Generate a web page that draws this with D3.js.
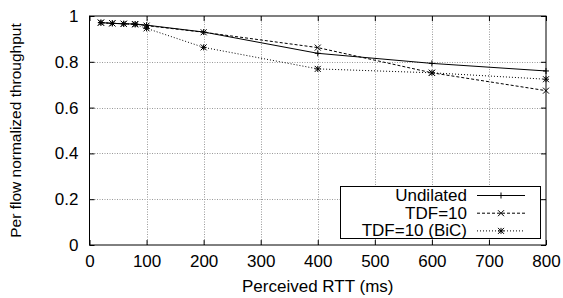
<!DOCTYPE html>
<html>
<head>
<meta charset="utf-8">
<script src="https://cdn.jsdelivr.net/npm/d3@7"></script>
<style>
  body { margin: 0; background: #fff; }
  text { font-family: "Liberation Sans", Arial, sans-serif; }
</style>
</head>
<body>
<div id="chart"></div>
<script>
// RTT values (ms) and normalized throughput per series
const rtt = [20, 40, 60, 80, 100, 200, 400, 600, 800];
const undilated = [0.971, 0.968, 0.966, 0.965, 0.96, 0.93, 0.837, 0.793, 0.76];
const tdf10 = [0.971, 0.968, 0.966, 0.965, 0.958, 0.929, 0.862, 0.752, 0.674];
const tdf10bic = [0.971, 0.968, 0.966, 0.963, 0.946, 0.863, 0.769, 0.752, 0.724];
const seriesNames = ["Undilated", "TDF=10", "TDF=10 (BiC)"];
const xTicks = [0, 100, 200, 300, 400, 500, 600, 700, 800];
const yTicks = [0, 0.2, 0.4, 0.6, 0.8, 1];

const width = 563, height = 298,
      margin = {top: 16, right: 17, bottom: 53, left: 89.5};
const fs = 17;

const svg = d3.select("#chart").append("svg")
    .attr("width", width).attr("height", height);

const x = d3.scaleLinear().domain([0, 800]).range([margin.left, width - margin.right]);
const y = d3.scaleLinear().domain([0, 1]).range([height - margin.bottom, margin.top]);

// grid
const grid = svg.append("g").attr("stroke", "#999").attr("stroke-width", 1)
    .attr("stroke-dasharray", "1,1.5");
grid.selectAll(".gx").data(xTicks.slice(1, -1)).join("line")
    .attr("x1", d => Math.round(x(d)) + 0.5).attr("x2", d => Math.round(x(d)) + 0.5)
    .attr("y1", y(0)).attr("y2", y(1));
grid.selectAll(".gy").data(yTicks.slice(1, -1)).join("line")
    .attr("y1", d => Math.round(y(d)) + 0.5).attr("y2", d => Math.round(y(d)) + 0.5)
    .attr("x1", x(0)).attr("x2", x(800));

const series = [
  {name: seriesNames[0], values: undilated, dash: null, marker: "plus"},
  {name: seriesNames[1], values: tdf10, dash: "3,2", marker: "cross"},
  {name: seriesNames[2], values: tdf10bic, dash: "1,2", marker: "star"}
];

const line = d3.line().x((d, i) => x(rtt[i])).y(d => y(d));

function marker(g, type, cx, cy) {
  const s = 3;
  if (type === "plus" || type === "star") {
    g.append("path").attr("d", `M${cx - s},${cy}H${cx + s}M${cx},${cy - s}V${cy + s}`);
  }
  if (type === "cross" || type === "star") {
    g.append("path").attr("d", `M${cx - s},${cy - s}L${cx + s},${cy + s}M${cx - s},${cy + s}L${cx + s},${cy - s}`);
  }
}

series.forEach(s => {
  svg.append("path").datum(s.values)
    .attr("fill", "none").attr("stroke", "#000").attr("stroke-width", 1)
    .attr("stroke-dasharray", s.dash)
    .attr("d", line);
  const mg = svg.append("g").attr("stroke", "#000").attr("stroke-width", 1).attr("fill", "none");
  s.values.forEach((v, i) => marker(mg, s.marker, x(rtt[i]), y(v)));
});

// legend
const lg = svg.append("g");
lg.append("rect").attr("x", 340.5).attr("y", 186.5).attr("width", 200).attr("height", 52)
  .attr("fill", "#fff").attr("stroke", "#000");
series.forEach((s, i) => {
  const base = 201 + i * 17.7;
  const ly = base - 5.5;
  lg.append("text").attr("x", 467).attr("y", base).attr("text-anchor", "end")
    .attr("font-size", fs).text(s.name);
  lg.append("line").attr("x1", 477).attr("x2", 525).attr("y1", ly).attr("y2", ly)
    .attr("stroke", "#000").attr("stroke-dasharray", s.dash);
  const mg = lg.append("g").attr("stroke", "#000").attr("fill", "none");
  marker(mg, s.marker, 501, ly);
});

// frame and ticks
svg.append("rect").attr("x", x(0)).attr("y", y(1)).attr("width", x(800) - x(0))
  .attr("height", y(0) - y(1)).attr("fill", "none").attr("stroke", "#000");

const xAxis = g => g.attr("transform", `translate(0,${y(0)})`)
  .call(d3.axisBottom(x).tickValues(xTicks).tickSize(-5).tickPadding(10).tickFormat(d3.format("d")))
  .call(g => g.select(".domain").remove());
const xAxisTop = g => g.attr("transform", `translate(0,${y(1)})`)
  .call(d3.axisTop(x).tickValues(xTicks).tickSize(-5).tickFormat(""))
  .call(g => g.select(".domain").remove());
const yAxis = g => g.attr("transform", `translate(${x(0)},0)`)
  .call(d3.axisLeft(y).tickValues(yTicks).tickSize(-5).tickPadding(11).tickFormat(d => d === 0 || d === 1 ? d : d.toFixed(1)))
  .call(g => g.select(".domain").remove());
const yAxisRight = g => g.attr("transform", `translate(${x(800)},0)`)
  .call(d3.axisRight(y).tickValues(yTicks).tickSize(-5).tickFormat(""))
  .call(g => g.select(".domain").remove());

[xAxis, xAxisTop, yAxis, yAxisRight].forEach(a => {
  svg.append("g").call(a)
    .call(g => g.selectAll("text").attr("font-size", fs).attr("fill", "#000")
      .attr("font-family", "Liberation Sans, Arial, sans-serif"))
    .call(g => g.selectAll("line").attr("stroke", "#000"));
});

svg.append("text").attr("x", (x(0) + x(800)) / 2).attr("y", 292)
  .attr("text-anchor", "middle").attr("font-size", fs).text("Perceived RTT (ms)");
svg.append("text").attr("transform", `translate(21,${(y(0) + y(1)) / 2}) rotate(-90)`)
  .attr("text-anchor", "middle").attr("font-size", 15.5).text("Per flow normalized throughput");
</script>
</body>
</html>
